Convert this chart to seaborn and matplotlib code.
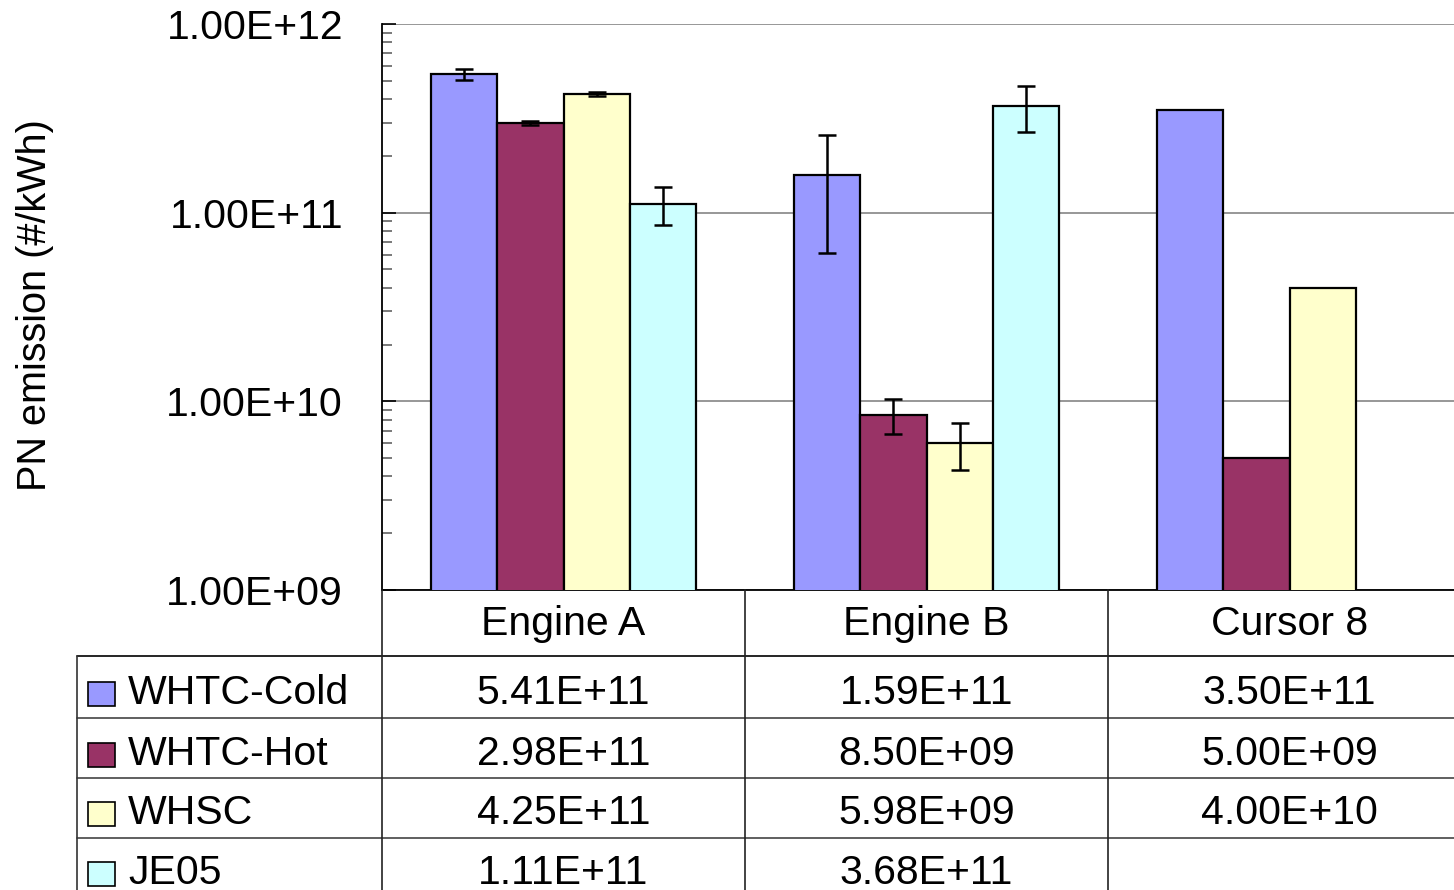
import numpy as np
import pandas as pd
import matplotlib
matplotlib.use("Agg")
import matplotlib.pyplot as plt
import seaborn as sns
from matplotlib import transforms
from matplotlib.lines import Line2D
from matplotlib.patches import Rectangle
from matplotlib.ticker import FuncFormatter, LogLocator, NullFormatter

# ---- data -------------------------------------------------------------
engines = ["Engine A", "Engine B", "Cursor 8"]
cycles = ["WHTC-Cold", "WHTC-Hot", "WHSC", "JE05"]

whtc_cold = [5.41e11, 1.59e11, 3.50e11]
whtc_hot = [2.98e11, 8.50e9, 5.00e9]
whsc = [4.25e11, 5.98e9, 4.00e10]
je05 = [1.11e11, 3.68e11, np.nan]

# half-width of the error bars (same units as the emissions)
err_whtc_cold = [0.38e11, 0.98e11, np.nan]
err_whtc_hot = [0.07e11, 1.82e9, np.nan]
err_whsc = [0.12e11, 1.68e9, np.nan]
err_je05 = [0.25e11, 1.0e11, np.nan]

ytick_values = [1e9, 1e10, 1e11, 1e12]
colors = ["#9999FF", "#993366", "#FFFFCC", "#CCFFFF"]

series = [whtc_cold, whtc_hot, whsc, je05]
errors = [err_whtc_cold, err_whtc_hot, err_whsc, err_je05]

df = pd.DataFrame(
    [
        {"engine": e, "cycle": cyc, "pn": v}
        for cyc, vals in zip(cycles, series)
        for e, v in zip(engines, vals)
    ]
).dropna()

# ---- style ------------------------------------------------------------
sns.set_style("white")
plt.rcParams["font.family"] = ["Liberation Sans", "DejaVu Sans"]
plt.rcParams.update({
    "text.color": "black",
    "axes.labelcolor": "black",
    "xtick.color": "black",
    "ytick.color": "black",
})
FS = 29.5
BAR_WIDTH = 0.73

W, H = 1454, 890
fig = plt.figure(figsize=(W / 100, H / 100), dpi=100)

# plot area in pixel terms: left 382, top 24, bottom 590, three 363-px groups
ax = fig.add_axes([382 / W, 1 - 590 / H, 1089 / W, 566 / H])

sns.barplot(
    data=df, x="engine", y="pn", hue="cycle",
    order=engines, hue_order=cycles, palette=colors, saturation=1,
    width=BAR_WIDTH, edgecolor="black", linewidth=1.6,
    errorbar=None, legend=False, log_scale=True, ax=ax, zorder=3,
)
ax.set_yscale("log")
ax.set_ylim(ytick_values[0], ytick_values[-1])
ax.set_xlim(-0.5, len(engines) - 0.5)

# error bars at the dodged bar centres
slot = BAR_WIDTH / len(cycles)
ex, ey, ee = [], [], []
for h, (vals, errs) in enumerate(zip(series, errors)):
    for c, (v, e) in enumerate(zip(vals, errs)):
        if np.isfinite(v) and np.isfinite(e):
            ex.append(c + (h - (len(cycles) - 1) / 2) * slot)
            ey.append(v)
            ee.append(e)
ax.errorbar(ex, ey, yerr=ee, fmt="none", ecolor="black", elinewidth=1.8,
            capsize=6.5, capthick=1.8, zorder=5)

# y axis: scientific labels, inward ticks, grid on decades
ax.set_yticks(ytick_values)
ax.yaxis.set_major_formatter(FuncFormatter(lambda v, p: f"{v:.2E}"))
ax.yaxis.set_minor_locator(LogLocator(base=10, subs=np.arange(2, 10), numticks=40))
ax.yaxis.set_minor_formatter(NullFormatter())
ax.tick_params(axis="y", which="both", left=True)
ax.tick_params(axis="y", which="major", direction="in", length=10, width=1.2,
               color="black", labelcolor="black", labelsize=FS, pad=28)
ax.tick_params(axis="y", which="minor", direction="in", length=7, width=1.1,
               color="#555555")
ax.yaxis.grid(True, which="major", color="#7a7a7a", linewidth=1.1, zorder=0)
ax.xaxis.grid(False)
ax.set_axisbelow(True)

ax.set_ylabel("PN emission (#/kWh)", fontsize=28.5, color="black")
ax.yaxis.set_label_coords((35 - 382) / 1089, (590 - 305) / 566)
ax.yaxis.label.set_va("center")

# x categories shown as the header row of the data table
ax.set_xlabel("")
ax.tick_params(axis="x", length=0, labelsize=FS, labelcolor="black", pad=10.5)

for s in ("top", "right"):
    ax.spines[s].set_visible(False)
for s in ("left", "bottom"):
    ax.spines[s].set_color("black")
    ax.spines[s].set_linewidth(1.3)

# ---- data table under the plot ---------------------------------------
tab = fig.add_axes([0, 0, 1, 1])
tab.set_xlim(0, W)
tab.set_ylim(H, 0)
tab.axis("off")
col_tr = transforms.blended_transform_factory(ax.transData, tab.transData)

row_tops = [656, 718, 778, 838]
baselines = [704, 765, 824, 884]
label_left = 77

for i, y in enumerate(row_tops):
    tab.add_line(Line2D([label_left, W], [y, y],
                        color="black" if i == 0 else "#444444", lw=1.2))
tab.add_line(Line2D([label_left, label_left], [row_tops[0], H + 10],
                    color="#333333", lw=1.2))
for xb in np.arange(len(engines)) - 0.5:
    tab.add_line(Line2D([xb, xb], [590, H + 10], color="#222222", lw=1.2,
                        transform=col_tr))

for r, (name, vals, col) in enumerate(zip(cycles, series, colors)):
    base = baselines[r]
    tab.add_patch(Rectangle((88, base - 22), 27, 24, facecolor=col,
                            edgecolor="black", lw=1.2))
    tab.text(128, base, name, fontsize=FS, ha="left", va="baseline",
             color="black")
    for c, v in enumerate(vals):
        if np.isfinite(v):
            tab.text(c, base, f"{v:.2E}", fontsize=FS, ha="center",
                     va="baseline", color="black", transform=col_tr)

fig.savefig("out.png", dpi=100)
